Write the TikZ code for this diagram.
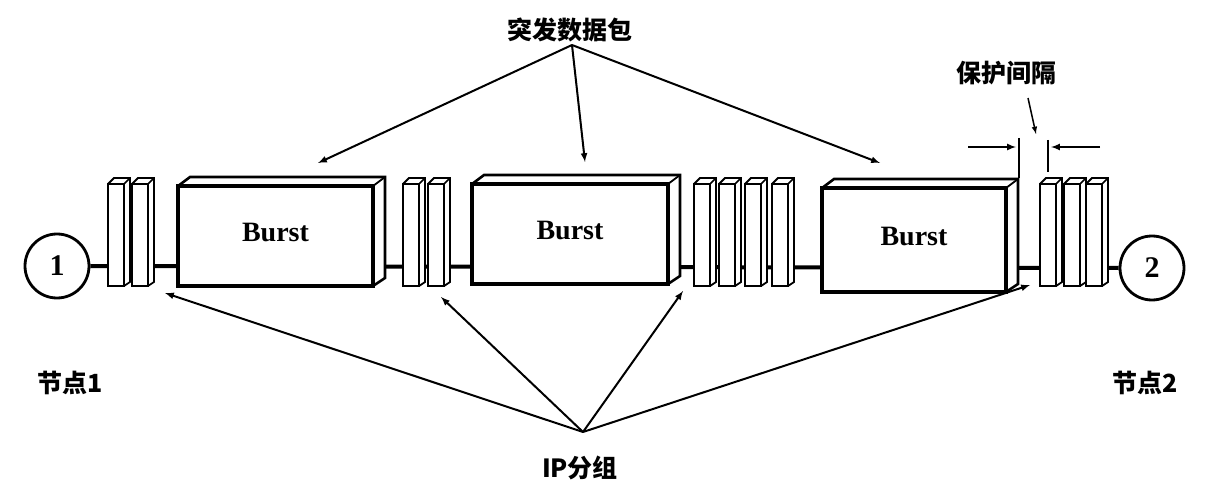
\documentclass[tikz,border=0pt]{standalone}
\usepackage{fontspec}
\setmainfont{Liberation Serif}
\newfontfamily\cjk{Noto Sans CJK SC}
\begin{document}
\begin{tikzpicture}[x=1pt,y=-1pt,line width=2pt,
  arr/.style={->,>=latex,line width=2pt},
  lbl/.style={font=\cjk\bfseries\fontsize{25}{28}\selectfont},
  nd/.style={circle,draw,line width=2.8pt,minimum size=64pt,inner sep=0pt,font=\bfseries\fontsize{30}{30}\selectfont}]
\useasboundingbox (0,0) rectangle (1219,500);
\node[nd] (n1) at (57,266) {1};
\node[nd] (n2) at (1152,268) {2};
\draw[line width=4pt] (n1.east) -- (n2.west);
% packets
\foreach \x in {108,132,403,428,694,719,745,772,1040,1064,1086}{
  \fill[white] (\x,184) -- (\x+6,178) -- (\x+22,178) -- (\x+22,282) -- (\x+16,286) -- (\x,286) -- cycle;
  \draw[line width=1.8pt] (\x,184) rectangle (\x+16,286);
  \draw[line width=1.8pt] (\x,184) -- (\x+6,178) -- (\x+22,178) -- (\x+22,282) -- (\x+16,286);
  \draw[line width=1.5pt] (\x+16,184) -- (\x+22,178);
}
% bursts
\foreach \a/\b/\t/\bt/\n in {178/373/186/286/b1,472/668/184/284/b2,822/1006/188/292/b3}{
  \fill[white] (\a,\t) -- (\a+12,\t-9) -- (\b+12,\t-9) -- (\b+12,\bt-8) -- (\b,\bt) -- (\a,\bt) -- cycle;
  \draw[line width=3.2pt] (\a,\t) rectangle (\b,\bt);
  \draw[line width=2.6pt] (\a,\t) -- (\a+12,\t-9) -- (\b+12,\t-9) -- (\b+12,\bt-8) -- (\b,\bt);
  \draw[line width=1.8pt] (\b,\t) -- (\b+12,\t-9);
  \node[font=\bfseries\fontsize{28}{28}\selectfont] (\n) at ({(\a+\b)/2},{(\t+\bt)/2-3}) {Burst};
}
% guard interval
\coordinate (g1) at (1019,138); \coordinate (g1b) at (1019,178);
\coordinate (g2) at (1048,140); \coordinate (g2b) at (1048,172);
\draw[line width=2pt] (g1) -- (g1b); \draw[line width=2pt] (g2) -- (g2b);
\coordinate (ga) at (968,147); \coordinate (gb) at (1100,147);
\draw[arr] (ga) -- (1016,147);
\draw[arr] (gb) -- (1051,147);
\node[lbl] (guard) at (1006,73) {保护间隔};
\coordinate (gs) at (1028,98);
\draw[arr,line width=1.5pt] (gs) -- (1036,134);
% burst label
\node[lbl] (bl) at (570,30) {突发数据包};
\coordinate (bs) at (572,45);
\draw[arr] (bs) -- (318,163);
\draw[arr] (bs) -- (585,162);
\draw[arr] (bs) -- (880,163);
% ip label
\node[lbl] (ip) at (580,468) {IP分组};
\coordinate (is) at (583,432);
\draw[arr] (is) -- (165,293);
\draw[arr] (is) -- (441,297);
\draw[arr] (is) -- (683,291);
\draw[arr] (is) -- (1030,285);
\node[lbl] (l1) at (70,383) {节点1};
\node[lbl] (l2) at (1145,383) {节点2};
\end{tikzpicture}
\end{document}
